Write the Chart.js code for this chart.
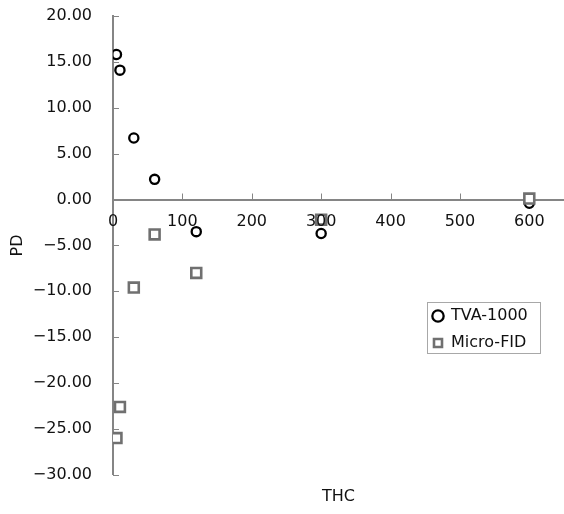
<!DOCTYPE html>
<html>
<head>
<meta charset="utf-8">
<script src="https://cdn.jsdelivr.net/npm/chart.js@4.4.1/dist/chart.umd.min.js"></script>
<style>
  html, body { margin: 0; padding: 0; background: #fff; }
</style>
</head>
<body>
<canvas id="chart" width="564" height="514"></canvas>
<script>
// ── Data ────────────────────────────────────────────────────────────────────
const thc      = [5, 10, 30, 60, 120, 300, 600];
const pdTva    = [15.8, 14.1, 6.7, 2.2, -3.5, -3.7, -0.4];
const pdFid    = [-26.0, -22.6, -9.6, -3.8, -8.0, -2.2, 0.1];
const names    = ["TVA-1000", "Micro-FID"];
const xTicks   = [0, 100, 200, 300, 400, 500, 600];
const yTicks   = [-30, -25, -20, -15, -10, -5, 0, 5, 10, 15, 20];

const FONT = { family: "'DejaVu Sans', sans-serif", size: 16, weight: "normal" };
const TEXT = "#111";
const AXIS = "#858585";

// small tick marks pointing into the plot, like the original
const innerTicks = {
  id: "innerTicks",
  beforeDatasetsDraw(chart) {
    const { ctx, scales: { x, y } } = chart;
    const y0 = y.getPixelForValue(0);
    const x0 = x.getPixelForValue(0);
    ctx.save();
    ctx.strokeStyle = AXIS;
    ctx.lineWidth = 1;
    ctx.beginPath();
    x.ticks.forEach(t => {
      const px = Math.round(x.getPixelForValue(t.value)) + 0.5;
      ctx.moveTo(px, y0); ctx.lineTo(px, y0 - 6);
    });
    y.ticks.forEach(t => {
      const py = Math.round(y.getPixelForValue(t.value)) + 0.5;
      ctx.moveTo(x0, py); ctx.lineTo(x0 + 6, py);
    });
    ctx.stroke();
    ctx.restore();
  }
};

// park the legend inside the plot and frame it
const legendBox = {
  id: "legendBox",
  beforeDraw(chart) {
    const lg = chart.legend, ca = chart.chartArea;
    lg.left = ca.right - 142;
    lg.top = ca.top + 281;
    lg.right = lg.left + lg.width;
    lg.bottom = lg.top + 80;
  },
  afterDraw(chart) {
    const lg = chart.legend, ctx = chart.ctx;
    ctx.save();
    ctx.strokeStyle = "#a8a8a8";
    ctx.lineWidth = 1;
    ctx.strokeRect(lg.left + 5.5, lg.top + 5.5, 113, 51);
    ctx.restore();
  }
};

new Chart(document.getElementById("chart"), {
  type: "scatter",
  data: {
    datasets: [
      {
        label: names[0],
        data: thc.map((v, i) => ({ x: v, y: pdTva[i] })),
        pointStyle: "circle",
        pointRadius: 4.6,
        borderWidth: 2.3,
        borderColor: "#000",
        backgroundColor: "rgba(255,255,255,0)",
        order: 1,
      },
      {
        label: names[1],
        data: thc.map((v, i) => ({ x: v, y: pdFid[i] })),
        pointStyle: "rect",
        pointRadius: 7,
        borderWidth: 2.6,
        borderColor: "#707070",
        backgroundColor: "#fff",
        order: 0,
      }
    ]
  },
  options: {
    responsive: false,
    animation: false,
    devicePixelRatio: 1,
    layout: { autoPadding: false, padding: { top: 16, left: 0, right: 0, bottom: 0 } },
    scales: {
      x: {
        type: "linear",
        position: { y: 0 },
        min: 0,
        max: 650,
        afterBuildTicks: s => { s.ticks = xTicks.map(v => ({ value: v })); },
        grid: { display: false, drawTicks: false },
        border: { color: AXIS, width: 2 },
        ticks: { z: 1, color: TEXT, font: FONT, padding: 13, maxRotation: 0, autoSkip: false },
      },
      y: {
        type: "linear",
        position: "left",
        min: -30,
        max: 20,
        afterBuildTicks: s => { s.ticks = yTicks.map(v => ({ value: v })); },
        afterFit: s => { s.width = 113; s.paddingTop = 0; s.paddingBottom = 0; },
        grid: { display: false, drawTicks: false },
        border: { color: AXIS, width: 2 },
        ticks: {
          color: TEXT, font: FONT, padding: 21, autoSkip: false,
          callback: v => v.toFixed(2).replace("-", "\u2212"),
        },
        title: { display: true, text: "PD", color: TEXT, font: FONT, padding: { top: 8, bottom: 4 } },
      }
    },
    plugins: {
      tooltip: { enabled: false },
      title: {
        display: true,
        text: "THC",
        position: "bottom",
        fullSize: false,
        color: TEXT,
        font: FONT,
        padding: { top: 12, bottom: 8 },
      },
      legend: {
        position: "chartArea",
        align: "start",
        labels: {
          usePointStyle: true,
          boxWidth: 10,
          boxHeight: 8,
          padding: 11,
          color: TEXT,
          font: FONT,
          sort: (a, b) => a.datasetIndex - b.datasetIndex,
        }
      }
    }
  },
  plugins: [innerTicks, legendBox]
});
</script>
</body>
</html>
